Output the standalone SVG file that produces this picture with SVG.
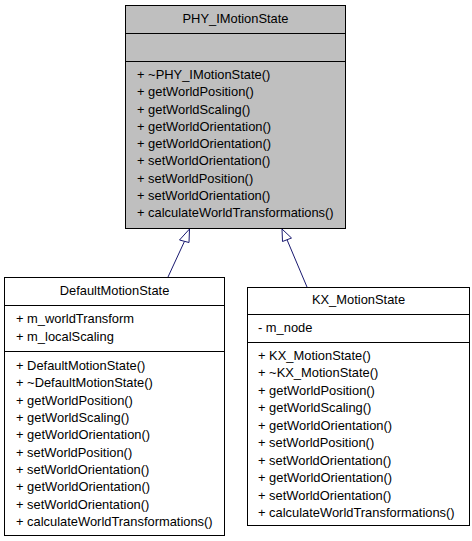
<svg xmlns="http://www.w3.org/2000/svg" width="472" height="541" viewBox="0 0 472 541">
<style>
text{font-family:"Liberation Sans",Arial,sans-serif;font-size:12.9px;fill:#000}
.box{stroke:#000;stroke-width:1}
.sep{stroke:#000;stroke-width:1}
.c{text-anchor:middle}
.edge{stroke:#191970;stroke-width:1;fill:none}
.head{stroke:#191970;stroke-width:1;fill:#fff}
</style>
<rect width="472" height="541" fill="#fff"/>
<g id="PHY_IMotionState">
<rect class="box" x="125.5" y="5.5" width="220" height="223" fill="#bfbfbf"/>
<line class="sep" x1="125.5" y1="33.5" x2="345.5" y2="33.5"/>
<line class="sep" x1="125.5" y1="61.5" x2="345.5" y2="61.5"/>
<text class="c" x="235.5" y="23">PHY_IMotionState</text>
<text x="137" y="79">+ ~PHY_IMotionState()</text>
<text x="137" y="96.3">+ getWorldPosition()</text>
<text x="137" y="113.5">+ getWorldScaling()</text>
<text x="137" y="130.8">+ getWorldOrientation()</text>
<text x="137" y="148">+ getWorldOrientation()</text>
<text x="137" y="165.3">+ setWorldOrientation()</text>
<text x="137" y="182.5">+ setWorldPosition()</text>
<text x="137" y="199.8">+ setWorldOrientation()</text>
<text x="137" y="217">+ calculateWorldTransformations()</text>
</g>
<g id="DefaultMotionState">
<rect class="box" x="4.5" y="277.5" width="220" height="258" fill="#fff"/>
<line class="sep" x1="4.5" y1="305.5" x2="224.5" y2="305.5"/>
<line class="sep" x1="4.5" y1="351.5" x2="224.5" y2="351.5"/>
<text class="c" x="114.5" y="295">DefaultMotionState</text>
<text x="16" y="323">+ m_worldTransform</text>
<text x="16" y="341">+ m_localScaling</text>
<text x="16" y="370">+ DefaultMotionState()</text>
<text x="16" y="387.3">+ ~DefaultMotionState()</text>
<text x="16" y="404.7">+ getWorldPosition()</text>
<text x="16" y="422">+ getWorldScaling()</text>
<text x="16" y="439.3">+ getWorldOrientation()</text>
<text x="16" y="456.7">+ setWorldPosition()</text>
<text x="16" y="474">+ setWorldOrientation()</text>
<text x="16" y="491.3">+ getWorldOrientation()</text>
<text x="16" y="508.7">+ setWorldOrientation()</text>
<text x="16" y="526">+ calculateWorldTransformations()</text>
</g>
<g id="KX_MotionState">
<rect class="box" x="247.5" y="287.5" width="222" height="238" fill="#fff"/>
<line class="sep" x1="247.5" y1="314.5" x2="469.5" y2="314.5"/>
<line class="sep" x1="247.5" y1="342.5" x2="469.5" y2="342.5"/>
<text class="c" x="358.5" y="304">KX_MotionState</text>
<text x="258" y="332">- m_node</text>
<text x="258" y="360">+ KX_MotionState()</text>
<text x="258" y="377.4">+ ~KX_MotionState()</text>
<text x="258" y="394.9">+ getWorldPosition()</text>
<text x="258" y="412.3">+ getWorldScaling()</text>
<text x="258" y="429.8">+ getWorldOrientation()</text>
<text x="258" y="447.2">+ setWorldPosition()</text>
<text x="258" y="464.6">+ setWorldOrientation()</text>
<text x="258" y="482">+ getWorldOrientation()</text>
<text x="258" y="499.5">+ setWorldOrientation()</text>
<text x="258" y="517">+ calculateWorldTransformations()</text>
</g>
<g id="connectors">
<line class="edge" x1="168" y1="277" x2="184.5" y2="241.3"/>
<polygon class="head" points="189.5,229 179.5,240 189,242.5"/>
<line class="edge" x1="307" y1="287" x2="287" y2="239.7"/>
<polygon class="head" points="282,229 282.5,241.5 291.5,238"/>
</g>
</svg>
